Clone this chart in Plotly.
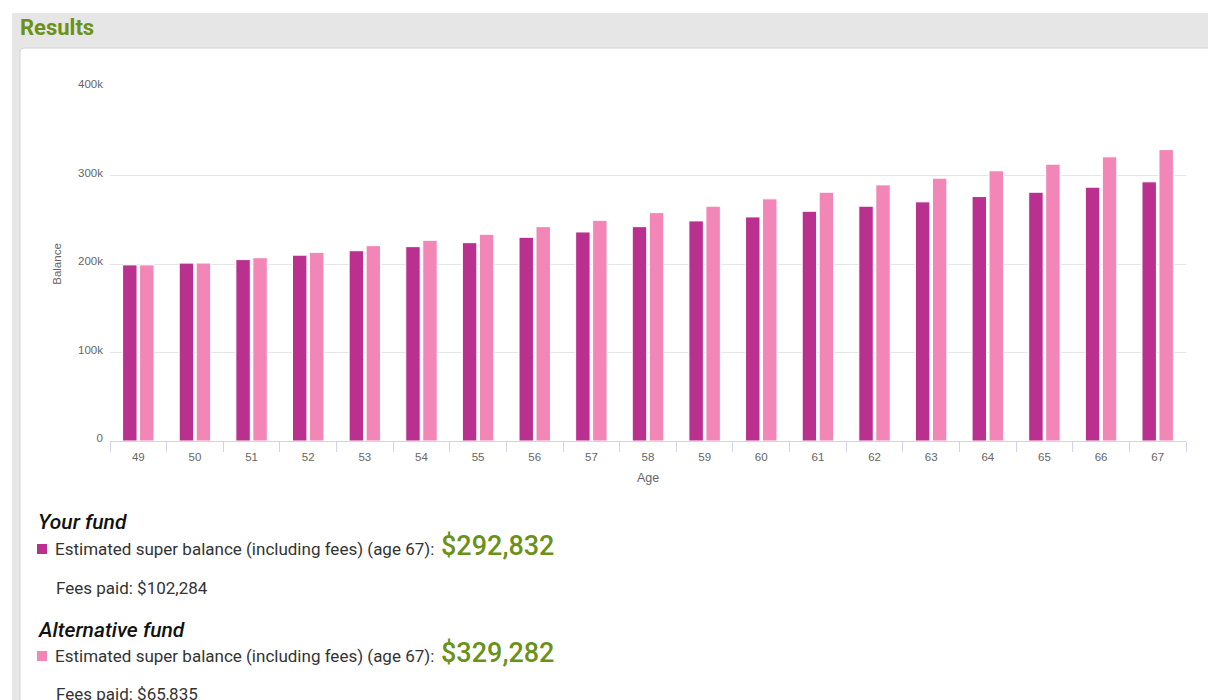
import plotly.graph_objects as go

# ---- data ----
ages = ["49", "50", "51", "52", "53", "54", "55", "56", "57", "58",
        "59", "60", "61", "62", "63", "64", "65", "66", "67"]
your_fund = [199000, 201000, 205000, 210000, 215000, 219600, 224100, 230200, 236200, 242200,
             248700, 253200, 259600, 265300, 270200, 276200, 281100, 286800, 292832]
alt_fund = [199000, 201100, 207100, 213200, 220700, 226800, 233600, 242200, 249400, 258100,
            265300, 273600, 281100, 289400, 297000, 305300, 312800, 321100, 329282]
y_ticks = [0, 100000, 200000, 300000, 400000]
y_tick_labels = ["0", "100k", "200k", "300k", "400k"]
your_final = 292832
your_fees = 102284
alt_final = 329282
alt_fees = 65835

DARK = "#b9308f"
LIGHT = "#f286b6"
GREEN = "#6b9117"

W, H = 1208, 700
L, R, T, B = 110, 1186, 87, 441


def px(x):
    return (x - L) / (R - L)


def py(y):
    return (B - y) / (B - T)


fig = go.Figure()
fig.add_trace(go.Bar(x=ages, y=your_fund, name="Your fund",
                     marker=dict(color=DARK, line=dict(color="white", width=1))))
fig.add_trace(go.Bar(x=ages, y=alt_fund, name="Alternative fund",
                     marker=dict(color=LIGHT, line=dict(color="white", width=1))))

shapes = [
    # gray page frame
    dict(type="rect", xref="paper", yref="paper", x0=px(12), x1=px(1210), y0=py(13), y1=py(702),
         fillcolor="#e6e6e6", line=dict(width=0), layer="below"),
    # white card
    dict(type="path", xref="paper", yref="paper",
         path=(f"M {px(20)} {py(702)} L {px(20)} {py(52)} Q {px(20)} {py(48)} {px(24)} {py(48)} "
               f"L {px(1212)} {py(48)} L {px(1212)} {py(702)} Z"),
         fillcolor="white", line=dict(color="#d4d4d4", width=1), layer="below"),
    # legend squares
    dict(type="rect", xref="paper", yref="paper", x0=px(37), x1=px(47), y0=py(544), y1=py(554),
         fillcolor=DARK, line=dict(width=0)),
    dict(type="rect", xref="paper", yref="paper", x0=px(37), x1=px(47), y0=py(651), y1=py(661),
         fillcolor=LIGHT, line=dict(width=0)),
]

def ann(x, y, text, size, color="#333333", family="Roboto", weight=None, style=None):
    f = dict(size=size, color=color, family=family)
    if weight:
        f["weight"] = weight
    if style:
        f["style"] = style
    return dict(xref="paper", yref="paper", x=px(x), y=py(y), text=text, showarrow=False,
                xanchor="left", yanchor="middle", font=f)

annotations = [
    ann(18, 27, "Results", 22, GREEN, weight=700),
    ann(36, 522, "Your fund", 21, "#111111", weight=500, style="italic"),
    ann(53, 549, "Estimated super balance (including fees) (age 67):", 17),
    ann(439, 546, f"${your_final:,}", 27, GREEN, weight=500),
    ann(54, 588, f"Fees paid: ${your_fees:,}", 17),
    ann(36, 630, "Alternative fund", 21, "#111111", weight=500, style="italic"),
    ann(53, 656, "Estimated super balance (including fees) (age 67):", 17),
    ann(439, 653, f"${alt_final:,}", 27, GREEN, weight=500),
    ann(54, 694, f"Fees paid: ${alt_fees:,}", 17),
]

fig.update_layout(
    width=W, height=H,
    margin=dict(l=L, r=W - R, t=T, b=H - B),
    paper_bgcolor="white", plot_bgcolor="white",
    showlegend=False,
    barmode="group", bargap=0.4, bargroupgap=0.15,
    shapes=shapes, annotations=annotations,
    font=dict(family="Liberation Sans", color="#666666"),
    xaxis=dict(
        type="category", showgrid=False, showline=True, linecolor="#ccd6eb", linewidth=1,
        ticks="outside", tickson="boundaries", ticklen=10, tickcolor="#ccd6eb",
        tickfont=dict(size=11.5, color="#666666"), ticklabelstandoff=5,
        title=dict(text="Age", font=dict(size=12.5, color="#666666"), standoff=11),
    ),
    yaxis=dict(
        range=[0, 400000], tickvals=y_ticks, ticktext=y_tick_labels,
        showgrid=True, gridcolor="#e6e6e6", gridwidth=1, zeroline=False, showline=False,
        tickfont=dict(size=11.5, color="#666666"), ticks="", ticklabelstandoff=6,
        ticklabelshift=-3,
        title=dict(text="Balance", font=dict(size=11.5, color="#666666"), standoff=14),
    ),
)

fig.write_html("out.html", config={"displayModeBar": False},
               post_script="document.body.style.margin='0';document.body.style.padding='0';")
